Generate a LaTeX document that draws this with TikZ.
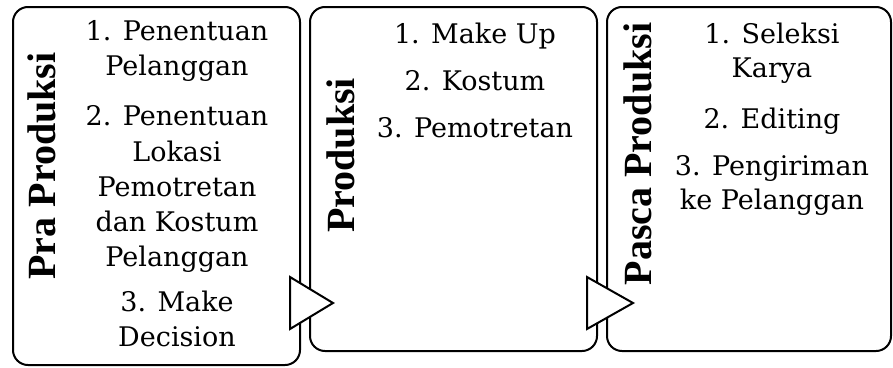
\documentclass[tikz,border=0pt]{standalone}
\usepackage{fontspec}
\setmainfont{DejaVu Serif}
\newfontfamily\labelfont{Liberation Serif}
\begin{document}
\begin{tikzpicture}[x=1pt,y=-1pt,
  box/.style={draw=black, line width=2pt, rounded corners=15pt, fill=white, inner sep=0pt},
  phase/.style={font=\labelfont\bfseries\fontsize{40}{40}\selectfont, rotate=90, anchor=base, inner sep=0pt},
  item/.style={font=\fontsize{27}{30}\selectfont, anchor=base, inner sep=0pt},
  tri/.style={draw=black, line width=2pt, fill=white, line join=miter}]
\useasboundingbox (0,0) rectangle (893,367);
% boxes
\node[box, minimum width=287pt, minimum height=358pt] (b1) at (156.5,186) {};
\node[box, minimum width=287pt, minimum height=344pt] (b2) at (453.5,179) {};
\node[box, minimum width=284pt, minimum height=344pt] (b3) at (749,179) {};
% phase labels
\node[phase] (l1) at (55,166) {Pra Produksi};
\node[phase] (l2) at (354,155.5) {Produksi};
\node[phase] (l3) at (651,154) {Pasca Produksi};
% box 1 items
\node[item] (a1) at (177,40) {1. Penentuan};
\node[item] (a2) at (177,75) {Pelanggan};
\node[item] (a3) at (177,125) {2. Penentuan};
\node[item] (a4) at (177,161) {Lokasi};
\node[item] (a5) at (177,196) {Pemotretan};
\node[item] (a6) at (177,231) {dan Kostum};
\node[item] (a7) at (177,266) {Pelanggan};
\node[item] (a8) at (177,311) {3. Make};
\node[item] (a9) at (177,346) {Decision};
% box 2 items
\node[item] (p1) at (475,43) {1. Make Up};
\node[item] (p2) at (475,90) {2. Kostum};
\node[item] (p3) at (475,137) {3. Pemotretan};
% box 3 items
\node[item] (s1) at (772,43) {1. Seleksi};
\node[item] (s2) at (772,77) {Karya};
\node[item] (s3) at (772,128) {2. Editing};
\node[item] (s4) at (772,175) {3. Pengiriman};
\node[item] (s5) at (772,209) {ke Pelanggan};
% arrows between phases
\draw[tri] (290,277) -- (290,329) -- (333,303) -- cycle;
\draw[tri] (587,277) -- (587,329) -- (633,303) -- cycle;
\end{tikzpicture}
\end{document}
